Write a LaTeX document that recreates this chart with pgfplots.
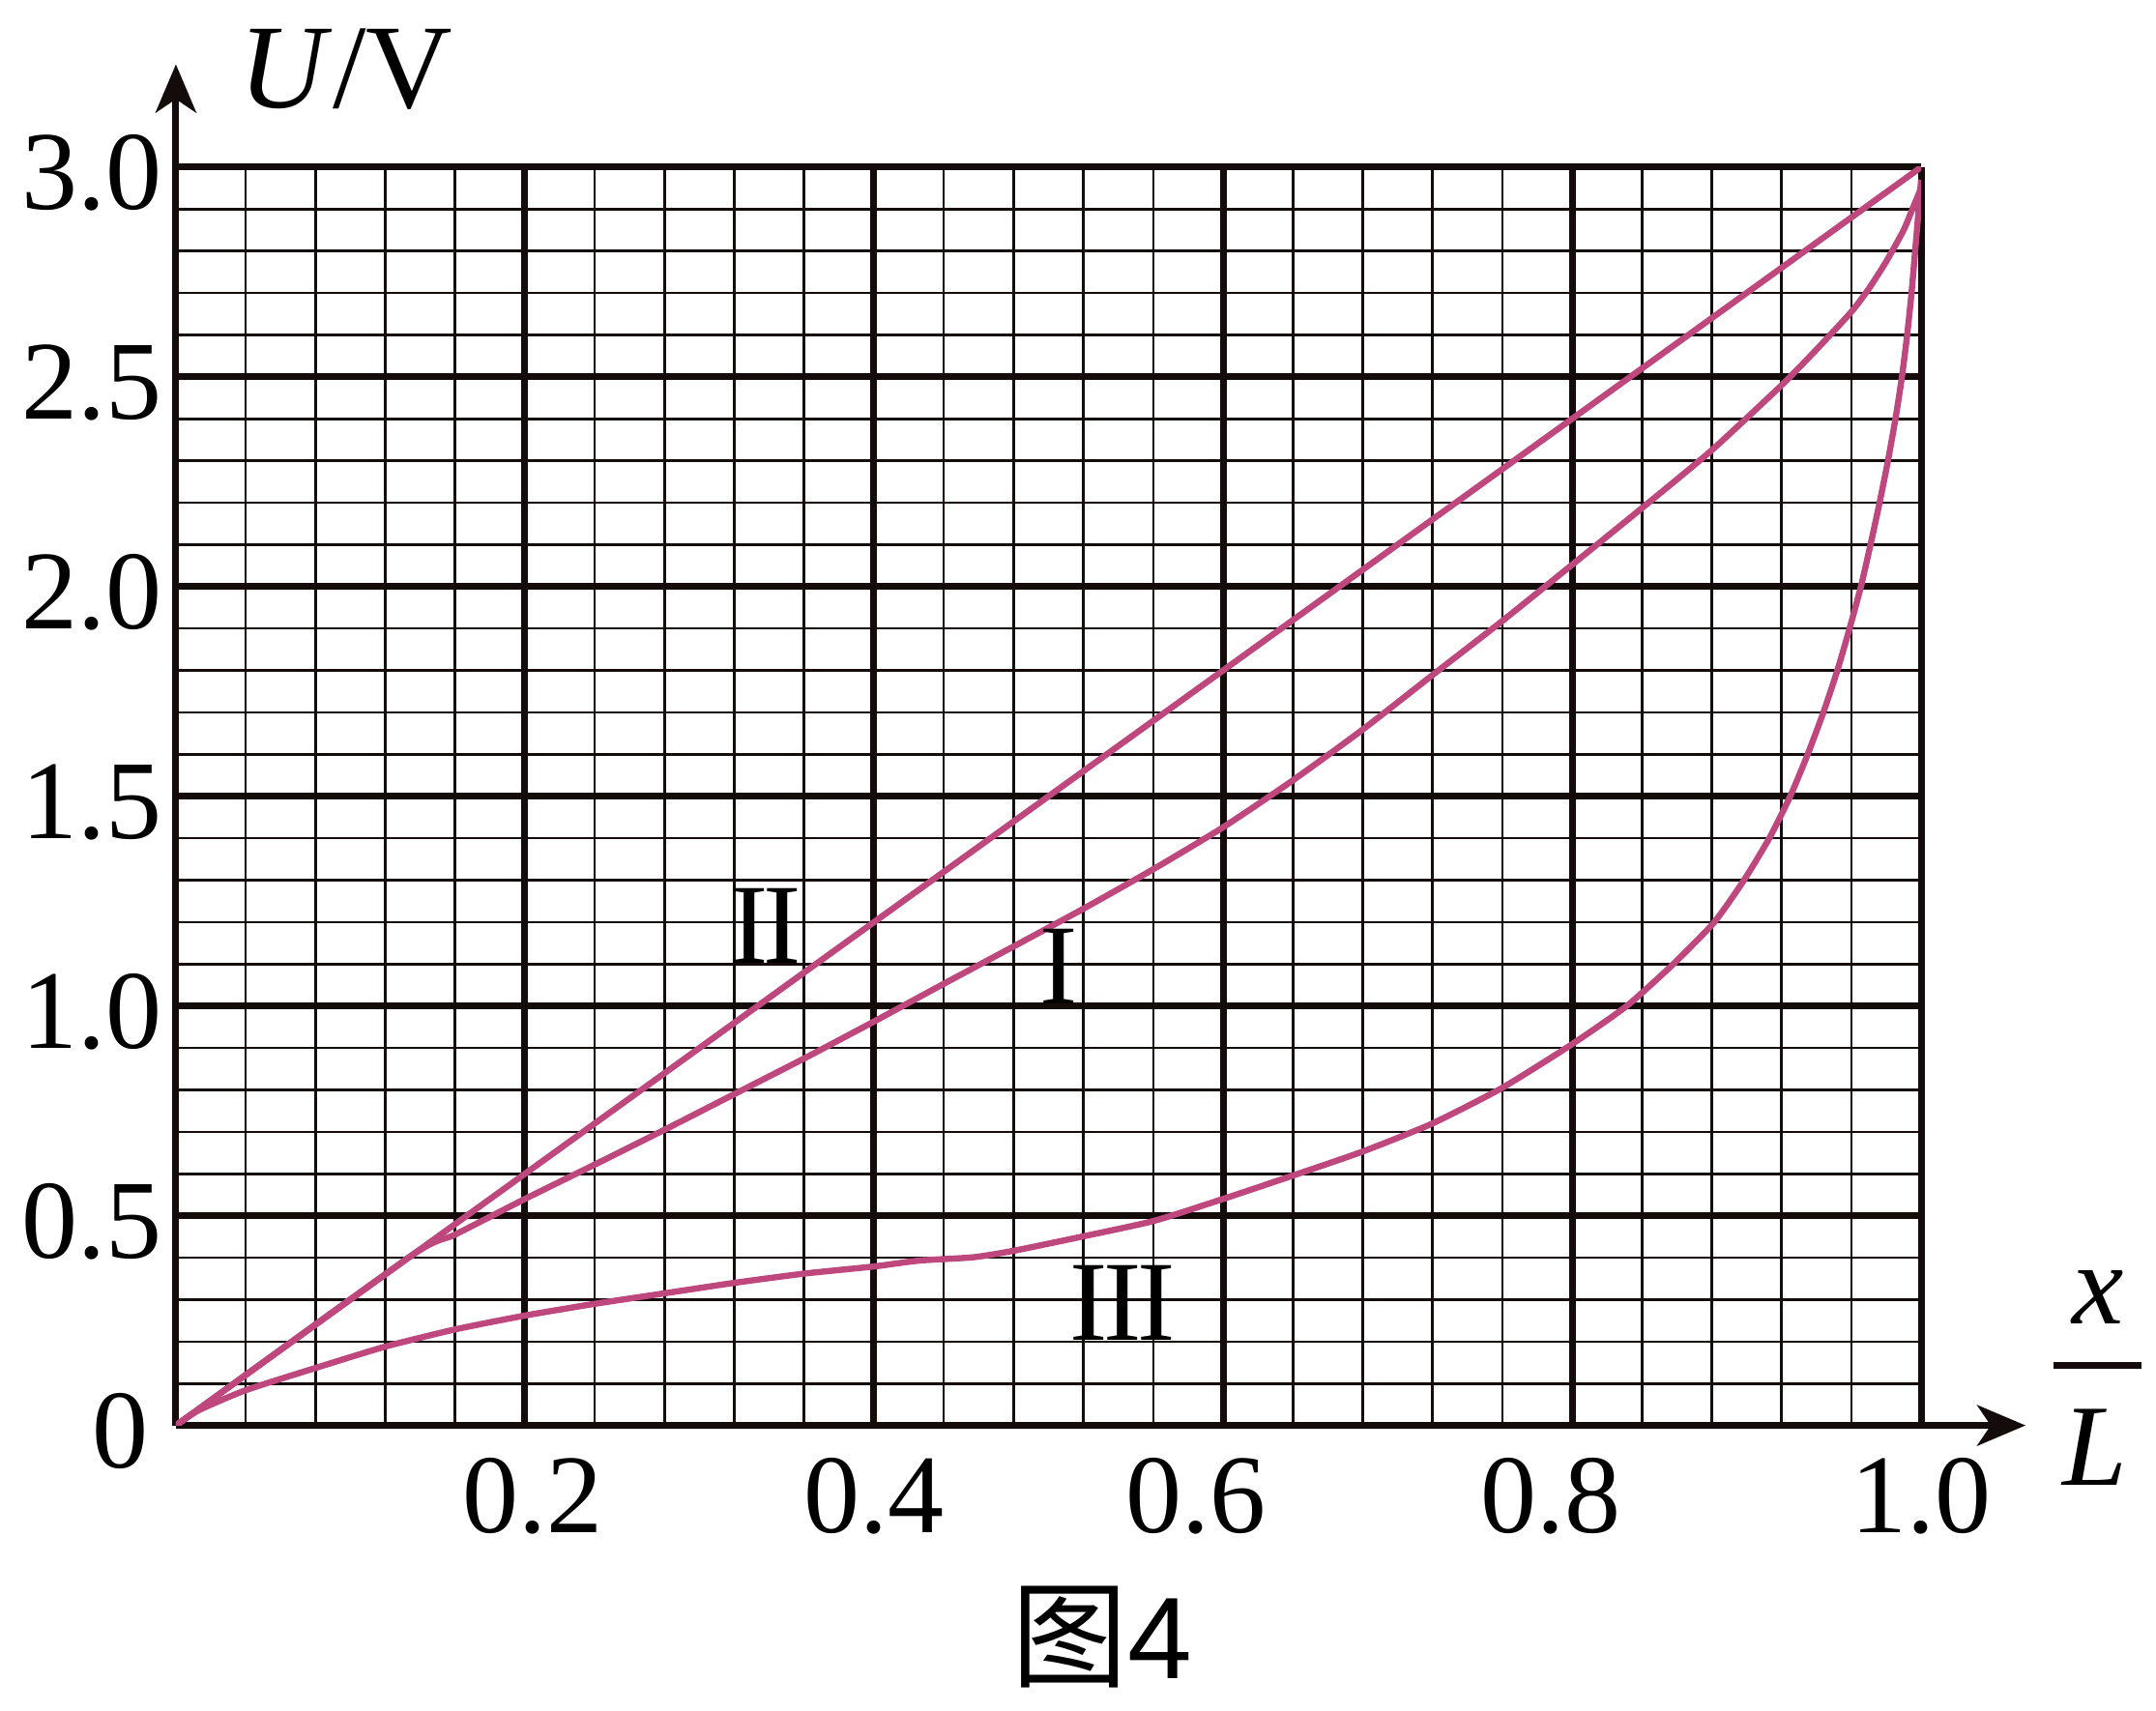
\documentclass[border=0pt]{standalone}
\usepackage{pgfplots}
\pgfplotsset{compat=1.18}
\usetikzlibrary{arrows.meta}
\usepackage{fontspec}
\setmainfont{Liberation Serif}
\newfontfamily\cjk{Noto Sans CJK SC}
\newfontfamily\arialf{Liberation Sans}
\definecolor{curve}{RGB}{190,72,126}
\definecolor{gridc}{RGB}{20,12,10}
\begin{document}
\begin{tikzpicture}
\begin{axis}[
  scale only axis, width=451.25pt, height=325.4pt,
  xmin=0, xmax=1, ymin=0, ymax=3,
  axis lines=left,
  axis line style={line width=1.75pt, gridc},
  x axis line style={-{Stealth[length=12.5pt,width=10.5pt,inset=3.5pt]}, shorten >=-27pt},
  y axis line style={-{Stealth[length=12.5pt,width=10.5pt,inset=3.5pt]}, shorten >=-26.6pt},
  xtick={0,0.2,0.4,0.6,0.8,1},
  ytick={0,0.5,1,1.5,2,2.5,3},
  minor x tick num=4, minor y tick num=4,
  grid=both,
  major grid style={line width=1.75pt, gridc},
  minor grid style={line width=0.65pt, gridc},
  major tick length=0pt, minor tick length=0pt,
  xticklabels={{},{\hspace*{4pt}0.2},{0.4},{0.6\hspace*{14pt}},{0.8\hspace*{11pt}},{1.0}},
  yticklabels={{0\hspace*{3.5pt}},{0.5},{1.0},{1.5},{2.0},{2.5},{3.0}},
  ticklabel style={font=\fontsize{29}{34}\selectfont, inner sep=0pt},
  xticklabel style={anchor=north, yshift=-8.25pt},
  yticklabel style={anchor=east, xshift=-3.5pt, yshift=-1.5pt},
  clip mode=individual,
]
% II
\addplot[curve, line width=1.6pt] coordinates {(0,0) (1,3)};
% I
\addplot[curve, line width=1.6pt, smooth, tension=0.35] coordinates {
(0,0) (0.135,0.405) (0.16,0.455) (0.2,0.54) (0.24,0.622) (0.28,0.705)
(0.32,0.79) (0.36,0.875) (0.4,0.963) (0.44,1.053) (0.48,1.142) (0.52,1.232)
(0.56,1.326) (0.6,1.426) (0.64,1.538) (0.68,1.659) (0.72,1.789) (0.76,1.918)
(0.8,2.052) (0.84,2.187) (0.88,2.325) (0.92,2.48) (0.94,2.565) (0.96,2.655)
(0.97,2.71) (0.98,2.775) (0.99,2.85) (0.995,2.9) (1.0,2.95)};
% III
\addplot[curve, line width=1.6pt, smooth, tension=0.35] coordinates {
(0,0) (0.013,0.036) (0.04,0.084) (0.08,0.137) (0.12,0.188) (0.16,0.229)
(0.2,0.262) (0.24,0.29) (0.28,0.315) (0.32,0.34) (0.36,0.362) (0.4,0.379)
(0.4258,0.393) (0.457,0.401) (0.4807,0.417) (0.5207,0.4515) (0.5607,0.488)
(0.6,0.54) (0.6402,0.596) (0.68,0.653) (0.72,0.72) (0.76,0.805) (0.8,0.909)
(0.8313,1.0) (0.858,1.1) (0.8815,1.2) (0.8985,1.3) (0.913,1.4) (0.925,1.5)
(0.935,1.6) (0.944,1.7) (0.952,1.8) (0.959,1.9) (0.9655,2.0) (0.971,2.1)
(0.9762,2.2) (0.981,2.3) (0.9853,2.4) (0.989,2.5) (0.992,2.6) (0.9945,2.7)
(0.997,2.82) (0.999,2.92) (1.0,2.97)};
% curve labels
\node[inner sep=0pt, font=\fontsize{29.5}{34}\selectfont] at (axis cs:0.338,1.19) {I\kern-0.04em I};
\node[inner sep=0pt, font=\fontsize{29.5}{34}\selectfont] at (axis cs:0.5058,1.095) {I};
\node[inner sep=0pt, font=\fontsize{29.5}{34}\selectfont] at (axis cs:0.5424,0.293) {I\kern-0.04em I\kern-0.04em I};
% axis titles
\node[anchor=base west, inner sep=0pt, font=\fontsize{31}{36}\selectfont] at (axis cs:0.036,3.1406) {\textit{U}/V};
\node[anchor=base, inner sep=0pt, font=\fontsize{30}{36}\selectfont] at (axis cs:1.1014,0.2419) {\textit{x}};
\draw[line width=1.75pt, gridc] (axis cs:1.0759,0.1429) -- (axis cs:1.1263,0.1429);
\node[anchor=base, inner sep=0pt, font=\fontsize{30}{36}\selectfont] at (axis cs:1.0997,-0.1429) {\textit{L}};
% caption
\node[anchor=base, inner sep=0pt, font=\fontsize{30}{36}\selectfont] at (axis cs:0.5307,-0.6037) {{\cjk 图}{\arialf 4}};
% bounding box
\path (axis cs:-0.1008,-0.6797) rectangle (axis cs:1.1346,3.3986);
\end{axis}
\end{tikzpicture}
\end{document}
